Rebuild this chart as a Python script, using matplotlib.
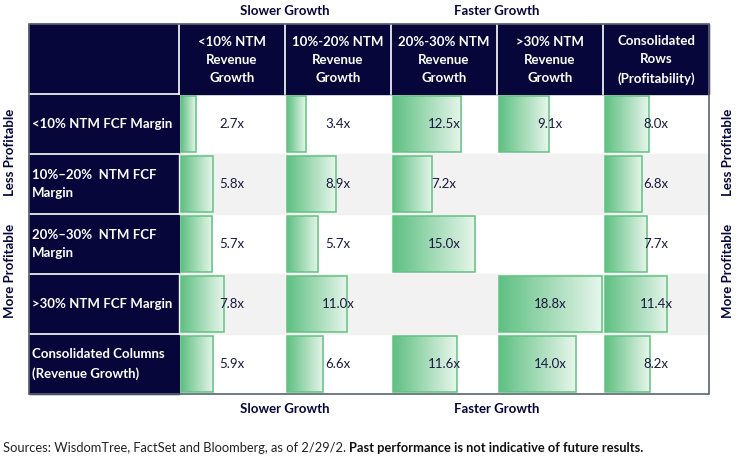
import numpy as np
import matplotlib.pyplot as plt
from matplotlib.patches import Rectangle
from matplotlib.colors import LinearSegmentedColormap

plt.rcParams['font.family'] = ['Lato', 'DejaVu Sans']

col_labels = ['<10% NTM\nRevenue\nGrowth', '10%-20% NTM\nRevenue\nGrowth',
              '20%-30% NTM\nRevenue\nGrowth', '>30% NTM\nRevenue\nGrowth',
              'Consolidated\nRows\n(Profitability)']
row_labels = ['<10% NTM FCF Margin', '10%\u201320%  NTM FCF\nMargin',
              '20%\u201330%  NTM FCF\nMargin', '>30% NTM FCF Margin',
              'Consolidated Columns\n(Revenue Growth)']
values = np.array([
    [2.7, 3.4, 12.5, 9.1, 8.0],
    [5.8, 8.9, 7.2, np.nan, 6.8],
    [5.7, 5.7, 15.0, np.nan, 7.7],
    [7.8, 11.0, np.nan, 18.8, 11.4],
    [5.9, 6.6, 11.6, 14.0, 8.2],
])

navy = '#06063a'
green_edge = '#62c283'
cmap = LinearSegmentedColormap.from_list('g', ['#5fc082', '#e8f6ec'])

# layout in pixels
left, top = 29, 24
label_w = 150
col_w = 106
head_h = 70
row_h = 60
ncol, nrow = len(col_labels), len(row_labels)
right = left + label_w + ncol * col_w
bottom = top + head_h + nrow * row_h

fig = plt.figure(figsize=(7.38, 4.58), dpi=100)
ax = fig.add_axes([0, 0, 1, 1])
ax.axis('off')

# header and row label background
ax.add_patch(Rectangle((left, top), right - left, head_h, color=navy, zorder=1))
ax.add_patch(Rectangle((left, top), label_w, bottom - top, color=navy, zorder=1))

x0 = left + label_w
for i in range(nrow):
    y = top + head_h + i * row_h
    if i % 2 == 1:
        ax.add_patch(Rectangle((x0, y), ncol * col_w, row_h, color='#f2f2f2', zorder=1))
    ax.plot([left, x0], [y, y], color='white', lw=1.2, zorder=2)
    ax.text(left + 3, y + row_h / 2, row_labels[i], color='white', fontsize=9.5,
            fontweight='bold', ha='left', va='center', linespacing=1.65, zorder=3)

for j in range(ncol):
    x = x0 + j * col_w
    ax.plot([x, x], [top, top + head_h], color='white', lw=1.2, zorder=2)
    ax.text(x + col_w / 2, top + head_h / 2 + 1, col_labels[j], color='white',
            fontsize=9.5, fontweight='bold', ha='center', va='center',
            linespacing=1.6, zorder=3)

# bars
vmax = np.nanmax(values)
grad = np.linspace(0, 1, 256).reshape(1, -1)
for i in range(nrow):
    for j in range(ncol):
        v = values[i, j]
        if np.isnan(v):
            continue
        bx = x0 + j * col_w + 2
        by = top + head_h + i * row_h + 2
        bw = v / vmax * (col_w - 3)
        bh = row_h - 4
        ax.imshow(grad, cmap=cmap, aspect='auto', extent=(bx, bx + bw, by + bh, by),
                  interpolation='bicubic', zorder=2)
        ax.add_patch(Rectangle((bx, by), bw, bh, fill=False, ec=green_edge, lw=1.1, zorder=3))
        ax.text(x0 + j * col_w + col_w / 2, by + bh / 2, f'{v:.1f}x', color='#1a1a40',
                fontsize=9.5, ha='center', va='center', zorder=4)

ax.add_patch(Rectangle((left, top), right - left, bottom - top, fill=False,
                       ec='#5a6370', lw=1.2, zorder=5))

# group labels
for k, lab in enumerate(['Slower Growth', 'Faster Growth']):
    cx = x0 + (2 * k + 1) * col_w
    ax.text(cx, 11, lab, color=navy, fontsize=9.5, fontweight='bold', ha='center', va='center')
    ax.text(cx, 409, lab, color=navy, fontsize=9.5, fontweight='bold', ha='center', va='center')

for xx in (10, 728):
    ax.text(xx, 152, 'Less Profitable', color=navy, fontsize=9.5, fontweight='bold',
            rotation=90, ha='center', va='center')
    ax.text(xx, 271, 'More Profitable', color=navy, fontsize=9.5, fontweight='bold',
            rotation=90, ha='center', va='center')

t1 = ax.text(3, 448, 'Sources: WisdomTree, FactSet and Bloomberg, as of 2/29/2. ',
             color='#222222', fontsize=9.3, ha='left', va='center')
ax.annotate('Past performance is not indicative of future results.', xy=(1, 0.5),
            xycoords=t1, color='#111111', fontsize=9.3, fontweight='bold',
            ha='left', va='center')

ax.set_xlim(0, 738)
ax.set_ylim(458, 0)
fig.savefig('out.png', dpi=100)
